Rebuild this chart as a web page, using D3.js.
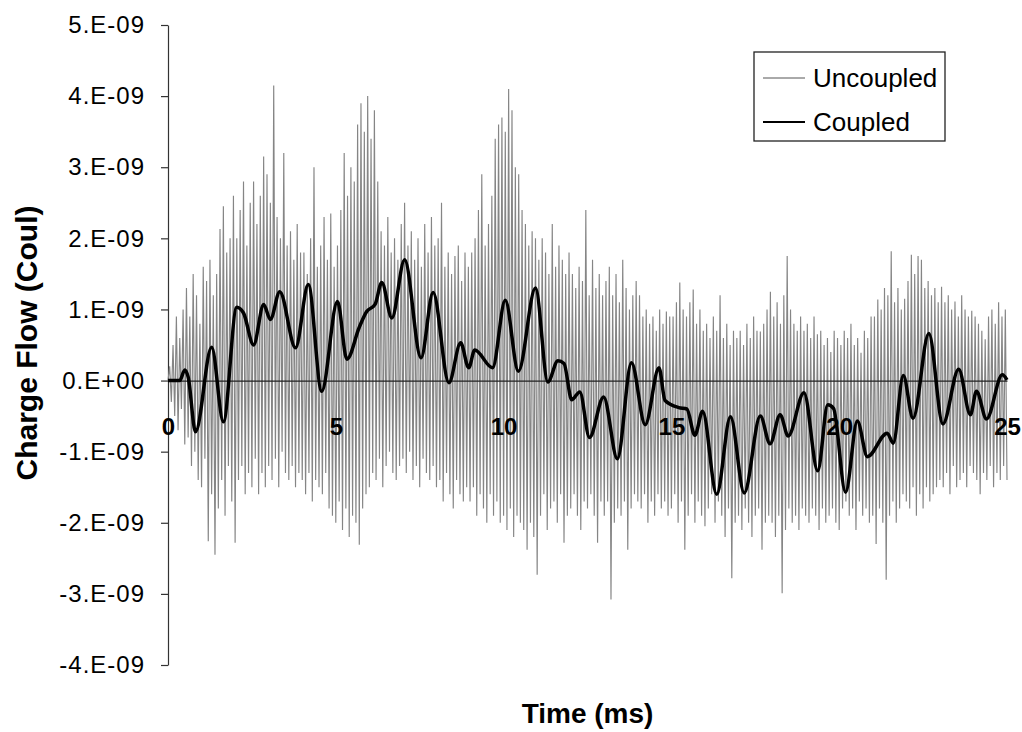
<!DOCTYPE html>
<html>
<head>
<meta charset="utf-8">
<script src="https://cdn.jsdelivr.net/npm/d3@7"></script>
<style>
  body { margin: 0; background: #fff; }
  svg { display: block; }
  text { font-family: "Liberation Sans", Arial, Helvetica, sans-serif; fill: #000; }
</style>
</head>
<body>
<svg id="chart" width="1022" height="732"></svg>
<script>
// ---- data (charge in units of 1E-09 Coulomb, time in ms) ----
const xTickValues = [0, 5, 10, 15, 20, 25];
const yTickValues = [5, 4, 3, 2, 1, 0, -1, -2, -3, -4];
const yTickLabels = ["5.E-09", "4.E-09", "3.E-09", "2.E-09", "1.E-09", "0.E+00",
                     "-1.E-09", "-2.E-09", "-3.E-09", "-4.E-09"];
const seriesNames = ["Uncoupled", "Coupled"];

// Uncoupled charge flow, sampled every 0.05 ms from 0 to 25 ms
const uncoupledStep = 0.05;
const uncoupled = [
  0.0, 0.2, -0.3, 0.5, -0.5, 0.9, -0.7, 0.6, -0.4, 1.0, -0.9, 1.3, -0.8, 0.9, -1.2, 1.5, -1.0, 1.2, -1.4, 0.8,
  -1.5, 1.6, -1.1, 1.4, -2.26, 1.7, -1.6, 1.2, -2.45, 1.5, -1.8, 2.13, -1.4, 2.45, -1.9, 1.8, -1.2, 2.0, -1.7, 2.6,
  -2.28, 2.0, -1.4, 2.4, -1.2, 2.8, -1.6, 1.9, -1.3, 2.5, -1.5, 2.8, -1.1, 2.2, -1.6, 2.6, -1.3, 3.15, -1.5, 2.9,
  -1.2, 2.5, -1.4, 4.15, -1.1, 2.3, -1.5, 2.0, -1.0, 3.2, -1.3, 1.9, -1.4, 2.1, -1.2, 1.7, -1.5, 2.2, -1.3, 1.8,
  -1.4, 1.8, -1.6, 1.5, -1.3, 2.0, -1.7, 3.0, -1.4, 1.6, -1.5, 1.9, -1.6, 2.3, -1.3, 1.7, -1.8, 2.35, -1.9, 1.6,
  -2.0, 1.9, -1.7, 2.4, -2.1, 3.2, -1.8, 2.6, -2.2, 3.0, -1.9, 2.8, -2.0, 3.6, -2.31, 3.9, -1.8, 3.5, -1.6, 4.0,
  -1.5, 3.4, -1.3, 3.8, -1.4, 2.8, -1.1, 2.1, -1.5, 1.9, -1.2, 2.3, -1.0, 1.8, -1.3, 2.0, -1.4, 1.7, -1.2, 2.2,
  -1.1, 2.5, -1.3, 1.9, -1.0, 2.1, -1.4, 1.7, -1.2, 2.0, -1.5, 1.6, -1.1, 2.2, -1.3, 1.8, -1.4, 2.3, -1.2, 1.9,
  -1.5, 2.0, -1.4, 2.5, -1.7, 1.6, -1.3, 1.8, -1.6, 1.5, -1.8, 1.75, -1.4, 1.9, -1.6, 1.4, -1.7, 1.8, -1.5, 1.6,
  -1.7, 1.8, -1.5, 2.0, -1.9, 2.4, -1.6, 2.9, -1.8, 1.9, -2.0, 2.2, -1.6, 2.6, -1.9, 3.4, -1.7, 3.6, -2.0, 3.7,
  -1.9, 3.5, -2.1, 4.1, -1.8, 3.8, -2.2, 3.0, -1.9, 2.9, -2.0, 2.4, -2.1, 2.2, -2.38, 1.9, -2.0, 2.1, -2.2, 2.0,
  -2.73, 1.7, -1.9, 2.0, -1.6, 1.8, -2.1, 1.5, -1.8, 2.2, -1.7, 1.6, -2.0, 1.9, -1.6, 1.7, -2.28, 1.5, -1.9, 1.8,
  -1.8, 1.5, -1.6, 1.3, -1.9, 1.6, -2.1, 1.4, -1.7, 2.4, -1.8, 1.2, -1.6, 1.7, -1.9, 1.3, -2.28, 1.5, -1.7, 1.2,
  -1.9, 1.4, -1.7, 1.6, -3.08, 1.2, -2.0, 1.5, -1.8, 1.1, -1.9, 1.7, -1.7, 1.3, -2.38, 1.0, -1.8, 1.2, -1.6, 1.4,
  -1.7, 1.2, -1.8, 0.9, -1.6, 1.0, -2.0, 0.8, -1.7, 0.9, -1.9, 0.7, -1.6, 1.0, -1.8, 0.8, -1.7, 0.97, -1.9, 0.9,
  -1.8, 0.9, -1.6, 1.1, -2.0, 1.38, -1.7, 1.0, -2.38, 0.9, -1.9, 1.1, -1.6, 1.28, -2.0, 0.8, -1.7, 1.0, -1.9, 0.7,
  -2.05, 0.8, -1.8, 0.6, -1.6, 0.9, -2.0, 0.7, -1.7, 1.2, -1.9, 0.6, -2.2, 0.8, -1.8, 0.5, -2.78, 0.7, -2.0, 0.6,
  -1.9, 0.7, -2.1, 0.5, -1.8, 0.8, -2.0, 0.6, -2.2, 0.9, -1.9, 0.7, -1.8, 0.69, -2.38, 0.8, -2.0, 1.0, -1.9, 1.25,
  -2.0, 0.9, -2.2, 1.1, -1.9, 0.8, -2.99, 1.2, -2.1, 1.75, -1.8, 1.0, -2.0, 0.8, -1.9, 0.7, -2.1, 0.9, -1.8, 0.7,
  -1.9, 0.8, -2.0, 0.6, -1.8, 0.9, -1.9, 0.65, -2.1, 0.7, -1.8, 0.5, -2.0, 0.6, -1.9, 0.4, -1.8, 0.7, -2.0, 0.6,
  -2.1, 0.5, -1.8, 0.7, -1.7, 0.6, -1.9, 0.8, -1.8, 0.5, -2.1, 0.6, -1.7, 0.39, -1.9, 0.7, -1.8, 0.6, -2.0, 0.9,
  -1.9, 0.9, -2.3, 1.14, -1.8, 1.0, -2.0, 1.3, -2.8, 1.2, -1.9, 1.82, -1.7, 1.1, -2.0, 1.3, -1.8, 1.0, -1.6, 1.15,
  -1.7, 1.4, -1.8, 1.77, -1.5, 1.5, -1.9, 1.75, -1.6, 1.7, -1.8, 1.3, -1.5, 1.4, -1.7, 1.2, -1.6, 1.3, -1.5, 1.1,
  -1.4, 1.32, -1.5, 1.1, -1.3, 1.2, -1.6, 1.0, -1.2, 1.11, -1.5, 0.9, -1.4, 1.2, -1.3, 1.0, -1.5, 0.9, -1.2, 0.98,
  -1.3, 0.9, -1.4, 0.8, -1.6, 0.7, -1.3, 0.58, -1.4, 0.9, -1.2, 1.0, -1.5, 0.8, -1.3, 1.1, -1.4, 0.9, -1.2, 1.0,
  -1.4
];

// Coupled charge flow (turning points of the smoother trace)
const coupledTime = [
  0, 0.35, 0.5, 0.6, 0.82, 1.3, 1.65, 2.05, 2.25, 2.55, 2.85, 3.05, 3.33, 3.8, 4.18, 4.58,
  5.05, 5.33, 5.7, 5.92, 6.17, 6.37, 6.67, 7.05, 7.54, 7.9, 8.37, 8.72, 8.96, 9.14, 9.67,
  10.05, 10.44, 10.95, 11.32, 11.62, 11.8, 12.03, 12.27, 12.56, 12.98, 13.39, 13.81, 14.22,
  14.63, 14.81, 15.22, 15.46, 15.7, 15.93, 16.35, 16.76, 17.17, 17.65, 17.94, 18.24, 18.48,
  18.95, 19.36, 19.66, 19.83, 20.19, 20.54, 20.84, 21.43, 21.61, 21.91, 22.2, 22.67, 23.09,
  23.56, 23.91, 24.09, 24.39, 24.86, 25.0
];
const coupledValue = [
  0, 0, 0.15, 0.05, -0.72, 0.47, -0.58, 1.03, 0.95, 0.5, 1.07, 0.86, 1.25, 0.46, 1.35, -0.15,
  1.11, 0.3, 0.75, 0.97, 1.07, 1.38, 0.88, 1.7, 0.32, 1.24, -0.03, 0.53, 0.18, 0.43, 0.18,
  1.13, 0.13, 1.3, -0.02, 0.28, 0.24, -0.27, -0.16, -0.8, -0.23, -1.1, 0.25, -0.62,
  0.18, -0.28, -0.38, -0.4, -0.77, -0.43, -1.6, -0.51, -1.58, -0.5, -0.89, -0.48, -0.78,
  -0.17, -1.27, -0.34, -0.39, -1.57, -0.57, -1.07, -0.74, -0.88, 0.07, -0.53, 0.66, -0.61,
  0.16, -0.48, -0.15, -0.54, 0.08, 0.01
];

// ---- layout ----
const svg = d3.select("#chart");
const plot = { left: 168, right: 1007, top: 25, bottom: 665 };

const x = d3.scaleLinear().domain([0, 25]).range([plot.left, plot.right]);
const y = d3.scaleLinear().domain([-4, 5]).range([plot.bottom, plot.top]);

// y axis
const yAxis = d3.axisLeft(y)
  .tickValues(yTickValues)
  .tickFormat((d, i) => yTickLabels[i])
  .tickSize(7)
  .tickSizeOuter(0)
  .tickPadding(16);

const gy = svg.append("g")
  .attr("transform", `translate(${plot.left},0)`)
  .call(yAxis);
gy.select(".domain").attr("stroke", "#333").attr("stroke-width", 1.2);
gy.selectAll(".tick line").attr("stroke", "#333").attr("stroke-width", 1.2);
gy.selectAll(".tick text")
  .attr("font-size", 24)
  .attr("letter-spacing", 1)
  .attr("font-family", "Liberation Sans, Arial, sans-serif")
  .attr("fill", "#000");

// Uncoupled trace
const uncoupledPts = uncoupled.map((v, i) => [i * uncoupledStep, v]);
const line = d3.line().x(d => x(d[0])).y(d => y(d[1]));

svg.append("path")
  .datum(uncoupledPts)
  .attr("fill", "none")
  .attr("stroke", "#858585")
  .attr("stroke-width", 1.15)
  .attr("d", line);

// x axis along zero
const xAxis = d3.axisBottom(x)
  .tickValues(xTickValues)
  .tickFormat(d3.format("d"))
  .tickSize(0)
  .tickSizeOuter(0)
  .tickPadding(37);

const gx = svg.append("g")
  .attr("transform", `translate(0,${y(0)})`)
  .call(xAxis);
gx.select(".domain").attr("stroke", "#222").attr("stroke-width", 1.2);
gx.selectAll(".tick text")
  .attr("font-size", 24)
  .attr("font-weight", "bold")
  .attr("font-family", "Liberation Sans, Arial, sans-serif")
  .attr("fill", "#000");

// Coupled trace
const coupledPts = coupledTime.map((t, i) => [t, coupledValue[i]]);
svg.append("path")
  .datum(coupledPts)
  .attr("fill", "none")
  .attr("stroke", "#000")
  .attr("stroke-width", 3.5)
  .attr("stroke-linejoin", "round")
  .attr("d", line.curve(d3.curveMonotoneX));

// axis titles
svg.append("text")
  .attr("transform", "translate(37,343) rotate(-90)")
  .attr("text-anchor", "middle")
  .attr("font-size", 30)
  .attr("font-weight", "bold")
  .text("Charge Flow (Coul)");

svg.append("text")
  .attr("x", (plot.left + plot.right) / 2)
  .attr("y", 723)
  .attr("text-anchor", "middle")
  .attr("font-size", 28)
  .attr("font-weight", "bold")
  .text("Time (ms)");

// legend
const legend = svg.append("g");
legend.append("rect")
  .attr("x", 754).attr("y", 52)
  .attr("width", 191).attr("height", 89)
  .attr("fill", "#fff")
  .attr("stroke", "#222")
  .attr("stroke-width", 1.3);

const legendRows = [
  { name: seriesNames[0], y: 78, stroke: "#555", width: 1 },
  { name: seriesNames[1], y: 122, stroke: "#000", width: 2.2 }
];
legendRows.forEach(r => {
  legend.append("line")
    .attr("x1", 763).attr("x2", 805)
    .attr("y1", r.y).attr("y2", r.y)
    .attr("stroke", r.stroke)
    .attr("stroke-width", r.width);
  legend.append("text")
    .attr("x", 813).attr("y", r.y)
    .attr("dy", "0.35em")
    .attr("font-size", 26)
    .text(r.name);
});
</script>
</body>
</html>
